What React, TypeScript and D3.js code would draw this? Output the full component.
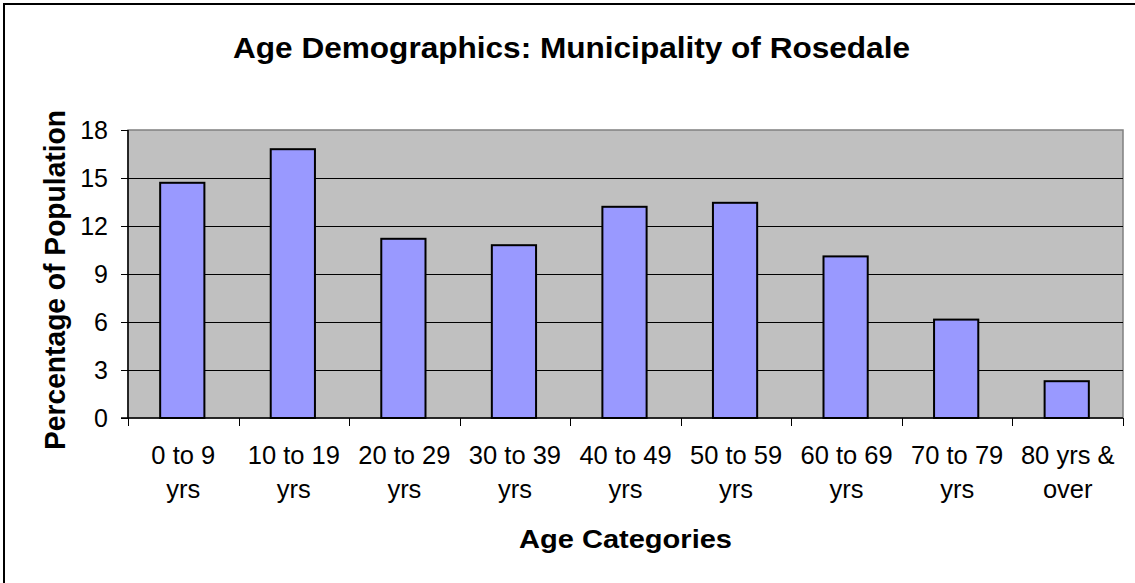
import React from "react";
import * as d3 from "d3";

const categories: string[][] = [
  ["0 to 9", "yrs"],
  ["10 to 19", "yrs"],
  ["20 to 29", "yrs"],
  ["30 to 39", "yrs"],
  ["40 to 49", "yrs"],
  ["50 to 59", "yrs"],
  ["60 to 69", "yrs"],
  ["70 to 79", "yrs"],
  ["80 yrs &", "over"],
];
const values: number[] = [14.7, 16.8, 11.2, 10.8, 13.2, 13.45, 10.1, 6.15, 2.3];
const yTicks: number[] = [0, 3, 6, 9, 12, 15, 18];

const TITLE = "Age Demographics: Municipality of Rosedale";
const X_TITLE = "Age Categories";
const Y_TITLE = "Percentage of Population";

const W = 1135;
const H = 583;
const plot = { left: 128, right: 1123, top: 130, bottom: 418 };
const FONT = "'Liberation Sans', Arial, sans-serif";

export default function App() {
  const x = d3
    .scaleBand<number>()
    .domain(d3.range(categories.length))
    .range([plot.left, plot.right])
    .paddingInner(0)
    .paddingOuter(0);
  const y = d3.scaleLinear().domain([0, 18]).range([plot.bottom, plot.top]);
  const band = x.bandwidth();
  const barW = band / 2.5;

  return (
    <svg
      width={W}
      height={H}
      style={{ position: "absolute", left: 0, top: 0, background: "#fff" }}
      fontFamily={FONT}
    >
      <rect x={0} y={0} width={W} height={H} fill="#fff" />
      {/* outer chart border */}
      <rect x={4} y={4} width={W + 10} height={H + 10} fill="none" stroke="#000" strokeWidth={2} />

      {/* title */}
      <text
        x={571.5}
        y={58}
        textAnchor="middle"
        fontSize={29}
        fontWeight="bold"
        textLength={677}
        lengthAdjust="spacingAndGlyphs"
      >
        {TITLE}
      </text>

      {/* plot area */}
      <rect
        x={plot.left}
        y={plot.top}
        width={plot.right - plot.left}
        height={plot.bottom - plot.top}
        fill="#C0C0C0"
        stroke="#808080"
        strokeWidth={1.5}
      />

      {/* gridlines */}
      {yTicks
        .filter((t) => t > 0 && t < 18)
        .map((t) => (
          <line
            key={"g" + t}
            x1={plot.left}
            x2={plot.right}
            y1={Math.round(y(t)) + 0.5}
            y2={Math.round(y(t)) + 0.5}
            stroke="#000"
            strokeWidth={1}
          />
        ))}

      {/* bars */}
      {values.map((v, i) => {
        const cx = (x(i) as number) + band / 2 - 1;
        return (
          <rect
            key={"b" + i}
            x={cx - barW / 2}
            y={y(v)}
            width={barW}
            height={plot.bottom - y(v)}
            fill="#9999FF"
            stroke="#000"
            strokeWidth={2}
          />
        );
      })}

      {/* axes */}
      <line x1={plot.left} x2={plot.left} y1={plot.top} y2={plot.bottom} stroke="#000" strokeWidth={1.5} />
      <line x1={plot.left - 7} x2={plot.right} y1={plot.bottom} y2={plot.bottom} stroke="#000" strokeWidth={1.5} />

      {/* y ticks */}
      {yTicks.map((t) => (
        <g key={"yt" + t}>
          <line
            x1={plot.left - 7}
            x2={plot.left}
            y1={Math.round(y(t)) + 0.5}
            y2={Math.round(y(t)) + 0.5}
            stroke="#000"
            strokeWidth={1}
          />
          <text x={108} y={y(t)} dy="0.36em" textAnchor="end" fontSize={25}>
            {t}
          </text>
        </g>
      ))}

      {/* x ticks */}
      {d3.range(categories.length + 1).map((i) => {
        const xx = i < categories.length ? (x(i) as number) : plot.right;
        return (
          <line
            key={"xt" + i}
            x1={Math.round(xx) + 0.5}
            x2={Math.round(xx) + 0.5}
            y1={plot.bottom}
            y2={plot.bottom + 8}
            stroke="#000"
            strokeWidth={1}
          />
        );
      })}

      {/* x labels */}
      {categories.map((lines, i) => {
        const cx = (x(i) as number) + band / 2;
        return (
          <text key={"xl" + i} x={cx} y={464} textAnchor="middle" fontSize={25.5}>
            {lines.map((ln, j) => (
              <tspan key={j} x={cx} y={464 + j * 34}>
                {ln}
              </tspan>
            ))}
          </text>
        );
      })}

      {/* x title */}
      <text
        x={625.5}
        y={548}
        textAnchor="middle"
        fontSize={26.5}
        fontWeight="bold"
        textLength={213}
        lengthAdjust="spacingAndGlyphs"
      >
        {X_TITLE}
      </text>

      {/* y title */}
      <text
        transform="translate(65,280) rotate(-90)"
        textAnchor="middle"
        fontSize={30}
        fontWeight="bold"
        textLength={340}
        lengthAdjust="spacingAndGlyphs"
      >
        {Y_TITLE}
      </text>
    </svg>
  );
}
